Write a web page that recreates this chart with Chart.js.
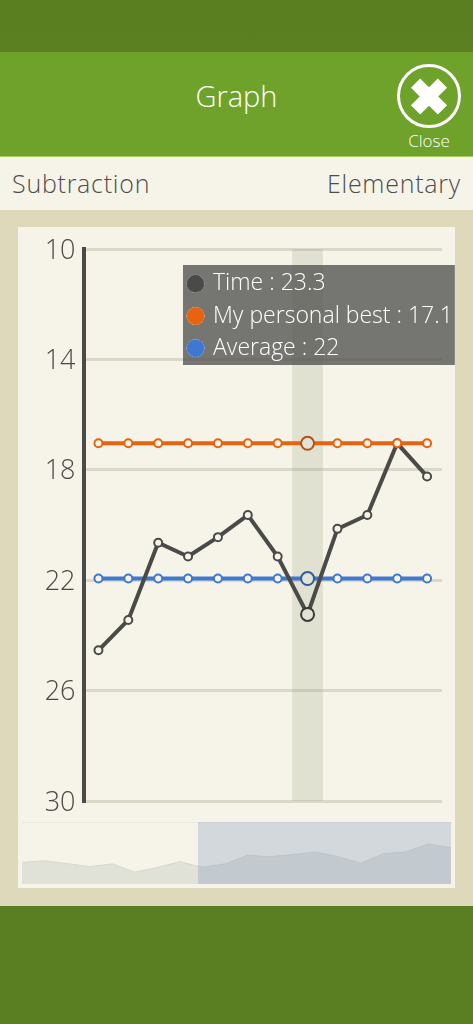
<!DOCTYPE html>
<html lang="en">
<head>
<meta charset="UTF-8">
<title>Graph</title>
<script src="https://cdn.jsdelivr.net/npm/chart.js"></script>
<style>
    html, body { margin: 0; padding: 0; background: #dfd9bb; }
    body { width: 473px; height: 1024px; position: relative; overflow: hidden; font-family: "Open Sans", sans-serif; font-weight: 300; }
    .abs { position: absolute; }
    .topbar { left: 0; top: 0; width: 473px; height: 52px; background: linear-gradient(#5a7f22, #5b8020); }
    .header { left: 0; top: 52px; width: 473px; height: 105px; background: #6fa22a; border-bottom: 1px solid #a8cc60; box-sizing: border-box; }
    .title { left: 0; width: 473px; top: 77px; text-align: center; color: #fff; font-size: 29px; line-height: 38px; }
    .closeRing { left: 397px; top: 64px; width: 58px; height: 58px; border: 3px solid #fff; border-radius: 50%; }
    .closeBar { left: 410px; top: 90px; width: 38px; height: 13px; background: #fff; }
    .closeText { left: 389px; width: 80px; top: 130px; text-align: center; color: #fff; font-size: 17px; line-height: 22px; }
    .subbar { left: 0; top: 157px; width: 473px; height: 53px; background: #f6f4e8; color: #4d4d4d; font-size: 25px; letter-spacing: 0.75px; line-height: 53px; }
    .panel { left: 18px; top: 227px; width: 437px; height: 661px; background: #f6f4e8; }
    .bottombar { left: 0; top: 906px; width: 473px; height: 118px; background: #5a7f22; }
    .miniTop { left: 22px; top: 822px; width: 429px; height: 1px; background: #ebe9dc; }
    .miniWindow { left: 198px; top: 822px; width: 253px; height: 62px; background: rgba(106, 132, 184, 0.25); }
    canvas { display: block; }
</style>
</head>
<body>
    <div class="abs topbar"></div>
    <div class="abs header"></div>
    <div class="abs title">Graph</div>
    <div class="abs closeRing"></div>
    <div class="abs closeBar" style="transform: rotate(45deg)"></div>
    <div class="abs closeBar" style="transform: rotate(-45deg)"></div>
    <div class="abs closeText">Close</div>
    <div class="abs subbar">
        <span class="abs" style="left: 12px">Subtraction</span>
        <span class="abs" style="right: 12px">Elementary</span>
    </div>
    <div class="abs panel"></div>
    <div class="abs bottombar"></div>

    <canvas id="mainChart" class="abs" style="left: 18px; top: 227px" width="437" height="661"></canvas>

    <div class="abs miniTop"></div>
    <canvas id="miniChart" class="abs" style="left: 22px; top: 822px" width="429" height="62"></canvas>
    <div class="abs miniWindow"></div>

<script>
    // values
    var labels = ["1", "2", "3", "4", "5", "6", "7", "8", "9", "10", "11", "12"];
    var timeValues = [24.6, 23.5, 20.7, 21.2, 20.5, 19.7, 21.2, 23.3, 20.2, 19.7, 17.1, 18.3];
    var bestValues = [17.1, 17.1, 17.1, 17.1, 17.1, 17.1, 17.1, 17.1, 17.1, 17.1, 17.1, 17.1];
    var averageValues = [22, 22, 22, 22, 22, 22, 22, 22, 22, 22, 22, 22];
    var bandValues = [null, null, null, null, null, null, null, [10, 30], null, null, null, null];

    var historyLabels = ["1", "2", "3", "4", "5", "6", "7", "8", "9", "10", "11", "12", "13", "14", "15", "16", "17", "18", "19", "20"];
    var historyValues = [23.0, 22.5, 23.4, 24.4, 23.5, 26.2, 24.6, 22.8, 24.6, 23.5, 20.7, 21.2, 20.5, 19.7, 21.2, 23.3, 20.2, 19.7, 17.1, 18.3];

    var selectedIndex = 7;
    var fontName = '"Open Sans", sans-serif';

    // tooltip stays in the same place whatever is selected
    Chart.Tooltip.positioners.fixedBox = function () {
        return { x: 165, y: 38 };
    };

    function lineSet(label, values, color, activeColor, order) {
        return {
            type: 'line',
            label: label,
            data: values,
            order: order,
            yAxisID: 'yMarks',
            borderColor: color,
            borderWidth: 4,
            tension: 0,
            pointRadius: 4,
            pointBorderWidth: 2,
            pointBorderColor: color,
            pointBackgroundColor: '#f6f4e8',
            pointHoverRadius: 6.5,
            pointHoverBorderWidth: 2,
            pointHoverBorderColor: activeColor,
            pointHoverBackgroundColor: '#e3e2d6'
        };
    }

    var mainChart = new Chart(document.getElementById('mainChart'), {
        data: {
            labels: labels,
            datasets: [
                lineSet('Time', timeValues, '#4a4a48', '#3a3a38', 2),
                lineSet('My personal best', bestValues, '#e8630f', '#ad5418', 1),
                lineSet('Average', averageValues, '#3f78d1', '#2f5c9e', 3),
                {
                    type: 'bar',
                    label: 'band',
                    data: bandValues,
                    order: 4,
                    backgroundColor: 'rgba(140, 150, 120, 0.2)',
                    barPercentage: 1,
                    categoryPercentage: 1
                }
            ]
        },
        options: {
            responsive: false,
            animation: false,
            events: [],
            layout: { padding: { top: 22, bottom: 87, right: 13, left: 0 } },
            scales: {
                x: { display: false, offset: true },
                y: {
                    reverse: true,
                    min: 10,
                    max: 30,
                    afterFit: function (scale) { scale.width = 65.5; },
                    ticks: {
                        stepSize: 4,
                        padding: 8,
                        labelOffset: 2,
                        color: '#4a4a48',
                        font: { family: fontName, size: 27, weight: '300', lineHeight: 1 }
                    },
                    grid: { color: '#dad8c9', lineWidth: 3, drawTicks: false },
                    border: { display: true, color: '#4a4a48', width: 4 }
                },
                // the marks sit a touch above the printed grid in the original
                yMarks: {
                    display: false,
                    reverse: true,
                    min: 10.06,
                    max: 30.06
                }
            },
            plugins: {
                legend: { display: false },
                title: { display: false },
                tooltip: {
                    position: 'fixedBox',
                    xAlign: 'left',
                    yAlign: 'top',
                    caretSize: 0,
                    caretPadding: 0,
                    cornerRadius: 0,
                    padding: { top: 5, bottom: 3, left: 4, right: 2 },
                    backgroundColor: 'rgba(85, 85, 82, 0.8)',
                    bodyColor: '#ffffff',
                    bodyFont: { family: fontName, size: 23, weight: '300' },
                    bodySpacing: 4.6,
                    usePointStyle: true,
                    boxWidth: 17,
                    boxHeight: 17,
                    boxPadding: 7,
                    callbacks: {
                        title: function () { return []; },
                        label: function (item) { return item.dataset.label + ' : ' + item.parsed.y; },
                        labelColor: function (item) {
                            return { borderColor: item.dataset.borderColor, backgroundColor: item.dataset.borderColor };
                        },
                        labelPointStyle: function () {
                            return { pointStyle: 'circle', rotation: 0 };
                        }
                    }
                }
            }
        }
    });

    // select one run like a tap would
    var activePoints = [
        { datasetIndex: 0, index: selectedIndex },
        { datasetIndex: 1, index: selectedIndex },
        { datasetIndex: 2, index: selectedIndex }
    ];
    mainChart.setActiveElements(activePoints);
    mainChart.tooltip.setActiveElements(activePoints, { x: 0, y: 0 });
    mainChart.update();

    // small overview strip under the chart
    new Chart(document.getElementById('miniChart'), {
        type: 'line',
        data: {
            labels: historyLabels,
            datasets: [{
                data: historyValues,
                borderColor: '#d8d9cc',
                borderWidth: 1,
                backgroundColor: '#e1e2d7',
                fill: 'start',
                pointRadius: 0,
                tension: 0
            }]
        },
        options: {
            responsive: false,
            animation: false,
            events: [],
            scales: {
                x: { display: false, offset: false },
                y: { display: false, reverse: true, min: 10, max: 30 }
            },
            plugins: { legend: { display: false }, tooltip: { enabled: false } }
        }
    });
</script>
</body>
</html>
